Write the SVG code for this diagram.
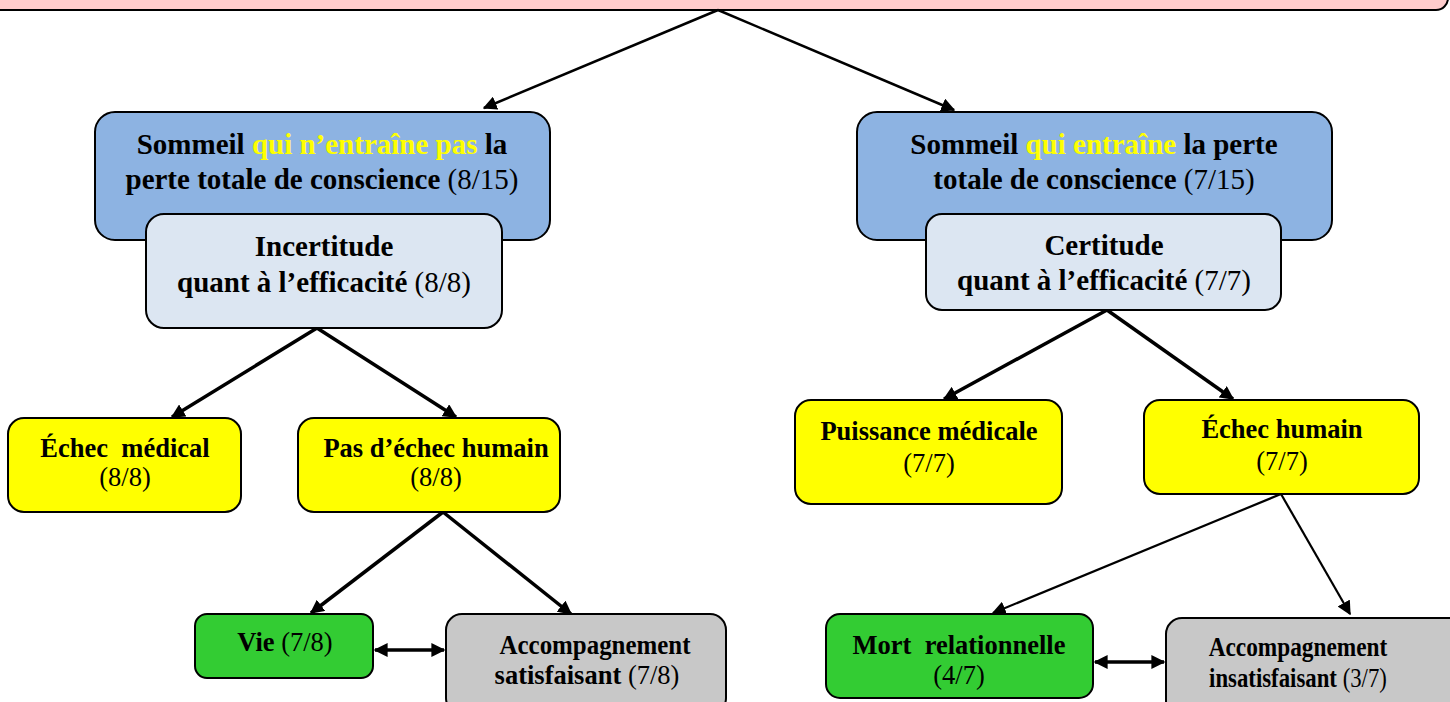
<svg xmlns="http://www.w3.org/2000/svg" width="1450" height="702" viewBox="0 0 1450 702">
<defs>
<marker id="ahs" viewBox="0 0 10 10" refX="9" refY="5" markerWidth="14" markerHeight="14" markerUnits="userSpaceOnUse" orient="auto-start-reverse">
<path d="M0,0 L10,5 L0,10 z" fill="#000"/>
</marker>
<style>
.box{stroke:#000;stroke-width:2}
.pink{fill:#FFCCCC}
.blue{fill:#8DB3E2}
.light{fill:#DCE6F2}
.yellow{fill:#FFFF00}
.green{fill:#33CC33}
.grey{fill:#C8C8C8}
text{font-family:"Liberation Serif","Times New Roman",serif;font-size:26.5px;fill:#000;text-anchor:middle;white-space:pre}
.big{font-size:29px}
.b{font-weight:bold}
.y{fill:#FFFF00}
.c{stroke:#000;fill:none}
</style>
</defs>
<g id="top">
<rect class="box pink" x="-30" y="-60" width="1478" height="70" rx="12"/>
</g>
<g id="connectors">
<line class="c" stroke-width="2.5" x1="718" y1="10" x2="484" y2="108" marker-end="url(#ahs)"/>
<line class="c" stroke-width="2.5" x1="718" y1="10" x2="954" y2="110" marker-end="url(#ahs)"/>
<line class="c" stroke-width="3.5" x1="317" y1="328" x2="172" y2="417" marker-end="url(#ahs)"/>
<line class="c" stroke-width="3.5" x1="317" y1="328" x2="456" y2="417" marker-end="url(#ahs)"/>
<line class="c" stroke-width="3.5" x1="1107" y1="310" x2="944" y2="399" marker-end="url(#ahs)"/>
<line class="c" stroke-width="3.5" x1="1107" y1="310" x2="1233" y2="399" marker-end="url(#ahs)"/>
<line class="c" stroke-width="3.5" x1="443" y1="512" x2="311" y2="613" marker-end="url(#ahs)"/>
<line class="c" stroke-width="3.5" x1="443" y1="512" x2="571" y2="614" marker-end="url(#ahs)"/>
<line class="c" stroke-width="2.2" x1="1281" y1="494" x2="993" y2="613" marker-end="url(#ahs)"/>
<line class="c" stroke-width="2.2" x1="1281" y1="494" x2="1350" y2="614" marker-end="url(#ahs)"/>
<line class="c" stroke-width="3.5" x1="375" y1="650" x2="444" y2="650" marker-start="url(#ahs)" marker-end="url(#ahs)"/>
<line class="c" stroke-width="3.5" x1="1095" y1="662" x2="1164" y2="662" marker-start="url(#ahs)" marker-end="url(#ahs)"/>
</g>
<g id="n-sommeil-pas">
<rect class="box blue" x="95" y="112" width="455" height="128" rx="20"/>
<text x="322" y="154" class="big b">Sommeil <tspan class="y">qui n’entraîne pas</tspan> la</text>
<text x="322" y="189" class="big"><tspan class="b">perte totale de conscience</tspan> (8/15)</text>
</g>
<g id="n-incertitude">
<rect class="box light" x="146" y="214" width="356" height="114" rx="18"/>
<text x="324" y="256" class="big b">Incertitude</text>
<text x="324" y="292" class="big"><tspan class="b">quant à l’efficacité</tspan> (8/8)</text>
</g>
<g id="n-sommeil">
<rect class="box blue" x="857" y="112" width="475" height="128" rx="20"/>
<text x="1094" y="154" class="big b">Sommeil <tspan class="y">qui entraîne</tspan> la perte</text>
<text x="1094" y="189" class="big"><tspan class="b">totale de conscience</tspan> (7/15)</text>
</g>
<g id="n-certitude">
<rect class="box light" x="926" y="214" width="355" height="96" rx="16"/>
<text x="1104" y="255" class="big b">Certitude</text>
<text x="1104" y="290" class="big"><tspan class="b">quant à l’efficacité</tspan> (7/7)</text>
</g>
<g id="n-echec-medical">
<rect class="box yellow" x="8" y="418" width="233" height="94" rx="16"/>
<text x="125" y="457" class="b">Échec  médical</text>
<text x="125" y="486">(8/8)</text>
</g>
<g id="n-pas-echec-humain">
<rect class="box yellow" x="298" y="418" width="262" height="94" rx="16"/>
<text x="436" y="457" class="b">Pas d’échec humain</text>
<text x="436" y="486">(8/8)</text>
</g>
<g id="n-puissance">
<rect class="box yellow" x="795" y="400" width="267" height="104" rx="16"/>
<text x="929" y="440" class="b">Puissance médicale</text>
<text x="929" y="472">(7/7)</text>
</g>
<g id="n-echec-humain">
<rect class="box yellow" x="1144" y="400" width="275" height="94" rx="16"/>
<text x="1282" y="438" class="b">Échec humain</text>
<text x="1282" y="470">(7/7)</text>
</g>
<g id="n-vie">
<rect class="box green" x="195" y="614" width="178" height="64" rx="12"/>
<text x="285" y="651"><tspan class="b">Vie</tspan> (7/8)</text>
</g>
<g id="n-accomp-sat">
<rect class="box grey" x="446" y="614" width="280" height="100" rx="16"/>
<text transform="translate(595,654) scale(0.94,1)" class="b">Accompagnement</text>
<text x="587" y="684"><tspan class="b">satisfaisant</tspan> (7/8)</text>
</g>
<g id="n-mort">
<rect class="box green" x="826" y="614" width="267" height="84" rx="14"/>
<text x="959" y="654" class="b">Mort  relationnelle</text>
<text x="959" y="684">(4/7)</text>
</g>
<g id="n-accomp-insat">
<rect class="box grey" x="1166" y="618" width="300" height="100" rx="16"/>
<text transform="translate(1298,656) scale(0.88,1)" class="b">Accompagnement</text>
<text transform="translate(1298,687) scale(0.86,1)"><tspan class="b">insatisfaisant</tspan> (3/7)</text>
</g>
</svg>
